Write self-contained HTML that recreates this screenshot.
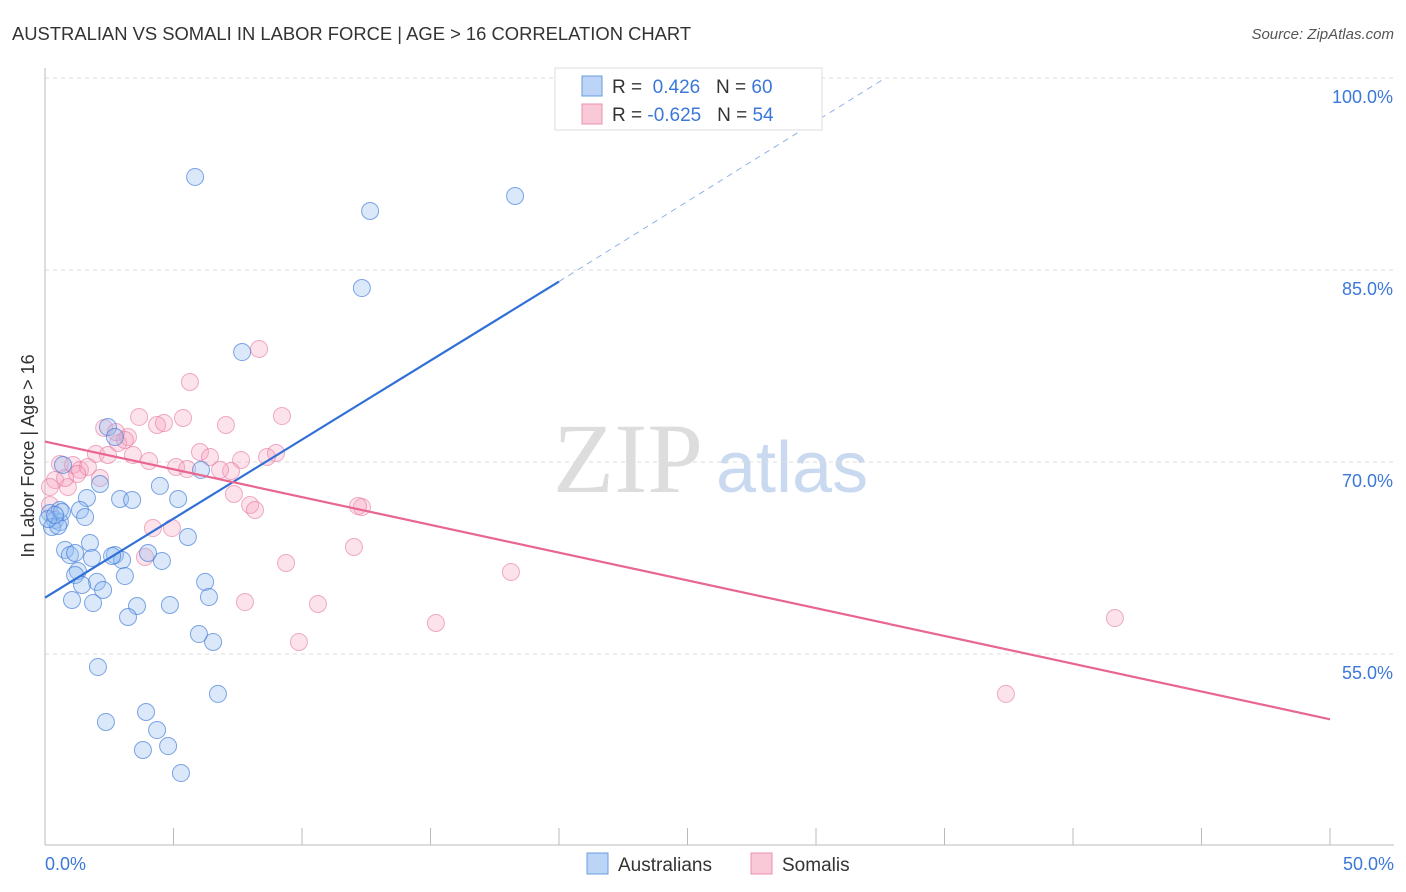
<!DOCTYPE html>
<html><head><meta charset="utf-8"><style>
body{margin:0;background:#fff;font-family:"Liberation Sans",sans-serif;}
svg{display:block}
</style></head><body>
<svg id="chart" width="1406" height="892" xmlns="http://www.w3.org/2000/svg">
<text x="12" y="40" font-size="18.4" fill="#333">AUSTRALIAN VS SOMALI IN LABOR FORCE | AGE &gt; 16 CORRELATION CHART</text>
<text x="1394" y="39" font-size="15" fill="#555" text-anchor="end" font-style="italic">Source: ZipAtlas.com</text>
<text x="553" y="492" font-size="100" fill="#ddd" font-family="Liberation Serif,serif">ZIP</text>
<text x="716" y="492" font-size="72" fill="#c9daf0">atlas</text>
<g id="grid"></g>
<g id="axes"></g>
<g id="pts"></g>
<g id="lines"></g>
<text transform="translate(34,456) rotate(-90)" font-size="18" fill="#333" text-anchor="middle">In Labor Force | Age &gt; 16</text>
<text x="45" y="870" font-size="18" fill="#3b78d8">0.0%</text>
<text x="1394" y="870" font-size="18" fill="#3b78d8" text-anchor="end">50.0%</text>
<g>
<rect x="555" y="68" width="267" height="62" fill="#fff" stroke="#ddd"/>
<rect x="582" y="76" width="20" height="20" fill="#bcd4f5" stroke="#6a9de0"/>
<rect x="582" y="104" width="20" height="20" fill="#f9c9d8" stroke="#e891ae"/>
<text x="612" y="93" font-size="19" fill="#333">R = <tspan fill="#3b78d8">&#160;0.426</tspan>&#160;&#160;&#160;N = <tspan fill="#3b78d8">60</tspan></text>
<text x="612" y="121" font-size="19" fill="#333">R = <tspan fill="#3b78d8">-0.625</tspan>&#160;&#160;&#160;N = <tspan fill="#3b78d8">54</tspan></text>
</g>
<g>
<rect x="587" y="853" width="21" height="21" fill="#bcd4f5" stroke="#6a9de0"/>
<text x="618" y="871" font-size="19" fill="#333">Australians</text>
<rect x="751" y="853" width="21" height="21" fill="#f9c9d8" stroke="#e891ae"/>
<text x="782" y="871" font-size="19" fill="#333">Somalis</text>
</g>
</svg>
<script>
const yTicks=[100,85,70,55];
const yTickLabels=["100.0%","85.0%","70.0%","55.0%"];
const bluePx=[[195,177],[370,211],[515,196],[362,288],[242,352],[108,427],[115,437],[63,465],[201,470],[100,484],[87,498],[160,486],[178,499],[120,499],[132,500],[80,510],[85,517],[50,513],[55,520],[60,522],[52,527],[58,526],[188,537],[90,543],[65,550],[70,555],[75,553],[92,558],[115,555],[122,560],[148,553],[162,561],[205,582],[78,571],[75,575],[97,582],[82,585],[125,576],[103,590],[72,600],[93,603],[137,606],[170,605],[209,597],[128,617],[199,634],[213,642],[98,667],[218,694],[106,722],[146,712],[157,730],[143,750],[168,746],[181,773],[60,510],[48,519],[62,512],[55,515],[112,556]];
const pinkPx=[[259,349],[190,382],[139,417],[183,418],[226,425],[157,425],[164,423],[282,416],[104,428],[128,437],[118,443],[125,440],[96,454],[108,455],[133,455],[149,461],[200,452],[210,457],[241,460],[267,457],[276,453],[60,464],[73,465],[80,470],[88,467],[77,474],[100,478],[176,467],[187,469],[231,471],[55,480],[68,487],[50,487],[234,494],[250,505],[255,510],[362,507],[358,506],[153,528],[172,528],[145,557],[354,547],[286,563],[511,572],[245,602],[318,604],[436,623],[299,642],[1115,618],[1006,694],[50,505],[65,478],[116,432],[220,470]];
const blueX=bluePx.map(p=>+((p[0]-45)/25.7).toFixed(2));
const blueY=bluePx.map(p=>+(100-(p[1]-78)/12.8).toFixed(2));
const pinkX=pinkPx.map(p=>+((p[0]-45)/25.7).toFixed(2));
const pinkY=pinkPx.map(p=>+(100-(p[1]-78)/12.8).toFixed(2));
const blueTrend=[[0,59.4],[20,84.1],[32.7,100]];
const pinkTrend=[[0,71.6],[50,49.9]];
const NS="http://www.w3.org/2000/svg";
const X=v=>45+v*25.7, Y=v=>78+(100-v)*12.8;
function mk(t,a,p){const e=document.createElementNS(NS,t);for(const k in a)e.setAttribute(k,a[k]);p.appendChild(e);return e;}
const grid=document.getElementById('grid'),axes=document.getElementById('axes'),pts=document.getElementById('pts'),lines=document.getElementById('lines');
yTicks.forEach((t,i)=>{
 const l=mk('line',{x1:45,x2:1394,y1:Y(t),y2:Y(t),stroke:'#ddd','stroke-dasharray':'4,4'},grid);
 
 
 const tx=mk('text',{x:1393,y:Y(t)+25,'font-size':18,fill:'#3b78d8','text-anchor':'end'},grid);
 tx.textContent=yTickLabels[i];
 
 
});
const ax=mk('line',{x1:45,x2:45,y1:68,y2:845,stroke:'#bbb'},axes);


const bx=mk('line',{x1:45,x2:1394,y1:845,y2:845,stroke:'#bbb'},axes);


for(let i=0;i<=10;i++){const t=mk('line',{x1:X(i*5),x2:X(i*5),y1:828,y2:845,stroke:'#bbb'},axes);
 
 }
pinkX.forEach((x,i)=>{const c=mk('circle',{cx:X(x),cy:Y(pinkY[i]),r:8.5,fill:'rgba(244,160,190,0.3)',stroke:'rgba(230,120,160,0.6)','stroke-width':1},pts);
 
 });
blueX.forEach((x,i)=>{const c=mk('circle',{cx:X(x),cy:Y(blueY[i]),r:8.5,fill:'rgba(150,190,240,0.35)',stroke:'rgba(60,120,215,0.65)','stroke-width':1},pts);
 
 });
const b1=mk('line',{x1:X(blueTrend[0][0]),y1:Y(blueTrend[0][1]),x2:X(blueTrend[1][0]),y2:Y(blueTrend[1][1]),stroke:'#2f6fd6','stroke-width':2.2},lines);


const b2=mk('line',{x1:X(blueTrend[1][0]),y1:Y(blueTrend[1][1]),x2:X(blueTrend[2][0]),y2:Y(blueTrend[2][1]),stroke:'#8fb3e8','stroke-width':1,'stroke-dasharray':'6,5'},lines);


const p1=mk('line',{x1:X(pinkTrend[0][0]),y1:Y(pinkTrend[0][1]),x2:X(pinkTrend[1][0]),y2:Y(pinkTrend[1][1]),stroke:'#e8668f','stroke-width':2.2},lines);


</script>
</body></html>
